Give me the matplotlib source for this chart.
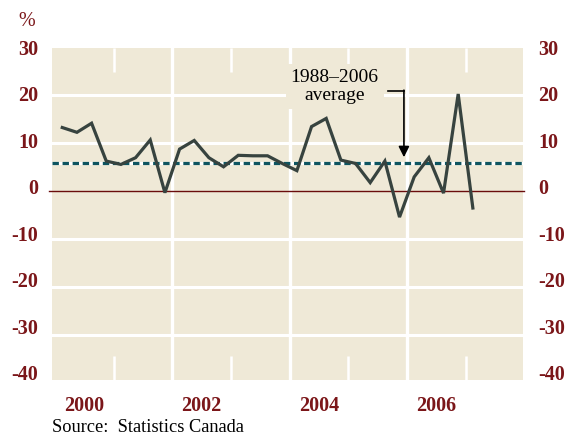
import matplotlib
matplotlib.use("Agg")
import matplotlib.pyplot as plt
from matplotlib.ticker import FixedLocator, NullFormatter

# ---- data ----
quarters = [2000 + i * 0.25 + 0.125 for i in range(29)]
values = [13.3, 12.3, 14.2, 6.3,
          5.6, 7.0, 10.7, -0.3,
          8.8, 10.6, 7.0, 5.1,
          7.5, 7.4, 7.4, 5.8,
          4.3, 13.5, 15.2, 6.5,
          5.8, 1.8, 6.3, -5.4,
          3.0, 7.0, -0.4, 20.3,
          -3.5]
average = 5.9
y_ticks = [30, 20, 10, 0, -10, -20, -30, -40]
year_labels = ["2000", "2002", "2004", "2006"]
year_label_pos = [2000.5, 2002.5, 2004.5, 2006.5]
grid_years = [2002, 2004, 2006]
minor_years = [2001, 2002, 2003, 2004, 2005, 2006, 2007]

BG = "#efe9d7"
RED = "#7b1619"
LINE = "#37433f"
TEAL = "#0e5560"
FONT = "Liberation Serif"

W, H = 565, 436
fig = plt.figure(figsize=(W / 100, H / 100), dpi=100)
fig.patch.set_facecolor("white")
L, R, T, B = 52, 523, 48, 380
ax = fig.add_axes([L / W, 1 - B / H, (R - L) / W, (B - T) / H])
ax.set_facecolor(BG)
for s in ax.spines.values():
    s.set_visible(False)

ax.set_xlim(1999.95, 2007.98)
ax.set_ylim(-39.4, 29.9)

# gridlines
for yv in [20, 10, -10, -20, -30]:
    ax.axhline(yv, color="white", lw=2.2, zorder=1)
for xv in grid_years:
    ax.axvline(xv, color="white", lw=2.4, zorder=1)

# zero line
ax.plot([1999.9, 2008.0], [0, 0], color="#6a0c0c", lw=1.0, zorder=2, clip_on=False)

# average dashed line
ax.axhline(average, color="white", lw=2.3, zorder=3)
ax.axhline(average, color=TEAL, lw=2.3, zorder=3.1, dashes=(2.0, 1.15))

# series
ax.plot(quarters, values, color=LINE, lw=2.3, zorder=4, solid_joinstyle="miter")

# ticks
ax.xaxis.set_major_locator(FixedLocator(year_label_pos))
ax.set_xticklabels([])
ax.xaxis.set_minor_locator(FixedLocator(minor_years))
ax.xaxis.set_minor_formatter(NullFormatter())
ax.tick_params(axis="x", which="major", length=0)
ax.tick_params(axis="x", which="minor", direction="in", length=17, width=1.8,
               color="white", top=True, bottom=True)
ax.set_yticks([])

for xp, lab in zip(year_label_pos, year_labels):
    ax.text(xp, (380 - 406) / 332, lab, transform=ax.get_xaxis_transform(),
            ha="center", va="center", fontsize=14.5, color=RED, family=FONT,
            weight="bold")

# y labels on both sides (figure coordinates)
for v in y_ticks:
    py = 50 + (30 - v) * 325 / 70
    lab = str(v)
    fig.text(38 / W, 1 - py / H, lab, ha="right", va="center", fontsize=14.5,
             color=RED, family=FONT, weight="bold")
    fig.text(538 / W, 1 - py / H, lab, ha="left", va="center", fontsize=14.5,
             color=RED, family=FONT, weight="bold")

fig.text(18 / W, 1 - 21 / H, "%", ha="left", va="center", fontsize=14.5,
         color=RED, family=FONT)

# annotation
ax.text(2004.77, 21.9, "1988\u20132006\naverage", ha="center", va="center",
        fontsize=14, color="black", family=FONT, linespacing=1.1, zorder=5,
        bbox=dict(boxstyle="square,pad=0.25", fc=BG, ec="none"))
ax.plot([2005.68, 2005.95], [21.0, 21.0], color="black", lw=1.2, zorder=6)
ax.annotate("", xy=(2005.95, 7.1), xytext=(2005.95, 21.1),
            arrowprops=dict(arrowstyle="-|>", color="black", lw=1.2,
                            mutation_scale=16, shrinkA=0, shrinkB=0),
            zorder=6)

fig.text(52 / W, 1 - 427 / H, "Source:  Statistics Canada", ha="left",
         va="center", fontsize=13.2, color="black", family=FONT)

fig.savefig("out.png", dpi=100, facecolor="white")
